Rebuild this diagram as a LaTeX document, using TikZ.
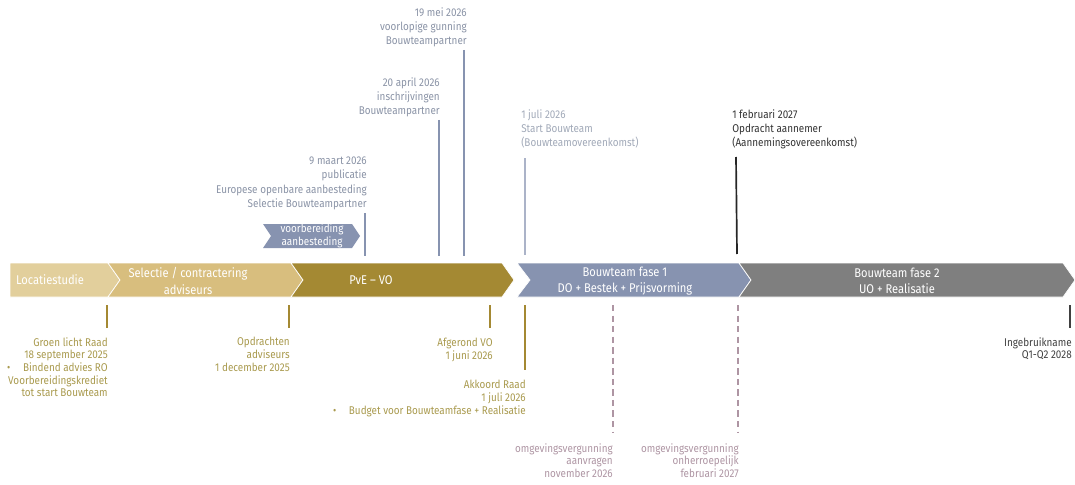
\documentclass[tikz,border=0pt]{standalone}
\usepackage{fontspec}
\setmainfont{Fira Sans}[FakeStretch=0.88]
\definecolor{locfill}{HTML}{E2CF9C}
\definecolor{selfill}{HTML}{D8BE7E}
\definecolor{pvefill}{HTML}{A48933}
\definecolor{btfill}{HTML}{8793B0}
\definecolor{grfill}{HTML}{7F7F7F}
\definecolor{goldtxt}{HTML}{A99A4E}
\definecolor{bluetxt}{HTML}{8A93A6}
\definecolor{mauve}{HTML}{AE95A3}
\begin{document}
\begin{tikzpicture}[
      x=0.025cm, y=-0.025cm,
      every node/.style={inner sep=0pt},
      band/.style={draw=white, line width=0.5pt},
      bandtxt/.style={text=white, align=center, font=\fontsize{9}{11.5}\selectfont},
      toplbl/.style={text=bluetxt, font=\fontsize{8}{10}\selectfont},
      botlbl/.style={text=goldtxt, align=right, anchor=north east,
                     font=\fontsize{8}{9}\selectfont},
      bline/.style={draw=btfill, line width=1pt},
      gline/.style={draw=pvefill, line width=1.4pt},
      vline/.style={draw=mauve, line width=1.1pt, dash pattern=on 4.5pt off 3pt},
    ]
    \useasboundingbox (0,0) rectangle (1075,485);

    % --- phase band ---
    \fill[locfill, band] (10,263) -- (108,263) -- (120,280) -- (108,297) -- (10,297) -- cycle;
    \fill[selfill, band] (108,263) -- (291,263) -- (303,280) -- (291,297) -- (108,297) -- (120,280) -- cycle;
    \fill[pvefill, band] (291,263) -- (502,263) -- (514,280) -- (502,297) -- (291,297) -- (303,280) -- cycle;
    \fill[btfill, band] (517,263) -- (739,263) -- (751,280) -- (739,297) -- (517,297) -- (530,280) -- cycle;
    \fill[grfill, band] (739,263) -- (1063,263) -- (1075,280) -- (1063,297) -- (739,297) -- (751,280) -- cycle;

    \node[bandtxt] (loc) at (50,280) {Locatiestudie};
    \node[bandtxt] (sel) at (188,281) {Selectie / contractering\\adviseurs};
    \node[bandtxt] (pve) at (371,280) {PvE -- VO};
    \node[bandtxt] (bt1) at (625,281) {Bouwteam fase 1\\DO + Bestek + Prijsvorming};
    \node[bandtxt] (bt2) at (897,281) {Bouwteam fase 2\\UO + Realisatie};

    % small arrow above the band
    \fill[btfill] (263,224) -- (352,224) -- (360,236) -- (352,248) -- (263,248) -- (271,236) -- cycle;
    \node[bandtxt, font=\fontsize{8}{9.5}\selectfont] (vba) at (312,236) {voorbereiding\\aanbesteding};

    % --- TOP: milestones ---
    \foreach \x/\ytop in {365/213, 439/120, 464/50} {
      \draw[bline] (\x,\ytop) -- (\x,256);
    }
    \node[toplbl, align=right, anchor=north east] (pub) at (367,157)
      {9 maart 2026\\publicatie\\Europese openbare aanbesteding\\Selectie Bouwteampartner};
    \node[toplbl, align=right, anchor=north east] (inschr) at (440,77)
      {20 april 2026\\inschrijvingen\\Bouwteampartner};
    \node[toplbl, align=right, anchor=north east] (gunning) at (467,7)
      {19 mei 2026\\voorlopige gunning\\Bouwteampartner};

    \draw[draw=btfill!70, line width=1.4pt] (525,158) -- (525,255);
    \node[toplbl, text=bluetxt!80, align=left, anchor=north west] (start) at (521,109)
      {1 juli 2026\\Start Bouwteam\\(Bouwteamovereenkomst)};
    \draw[draw=black!85, line width=1.2pt] (736,157) -- (737,254);
    \node[toplbl, text=black!80, align=left, anchor=north west] (aannemer) at (732,109)
      {1 februari 2027\\Opdracht aannemer\\(Aannemingsovereenkomst)};

    % --- BOTTOM: decisions ---
    \foreach \x in {107, 289, 490} {
      \draw[gline] (\x,305) -- (\x,328);
    }
    \draw[gline] (525,305) -- (525,370);
    \node[botlbl] (groen) at (108,337)
      {Groen licht Raad\\18 september 2025\\\textbullet\hspace{9pt}Bindend advies RO\\Voorbereidingskrediet\\tot start Bouwteam};
    \node[botlbl] (opdr) at (290,337) {Opdrachten\\adviseurs\\1 december 2025};
    \node[botlbl] (vo) at (493,338) {Afgerond VO\\1 juni 2026};
    \node[botlbl] (akkoord) at (526,380)
      {Akkoord Raad\\1 juli 2026\\\textbullet\hspace{9pt}Budget voor Bouwteamfase + Realisatie};

    % permits
    \draw[vline] (613,305) -- (613,432);
    \draw[vline] (738,305) -- (738,432);
    \node[botlbl, text=mauve] (aanvr) at (613,443) {omgevingsvergunning\\aanvragen\\november 2026};
    \node[botlbl, text=mauve] (onherr) at (739,443) {omgevingsvergunning\\onherroepelijk\\februari 2027};

    \draw[draw=black!75, line width=1.2pt] (1070,305) -- (1070,328);
    \node[botlbl, text=black!75] (ingebr) at (1072,337) {Ingebruikname\\Q1-Q2 2028};
  \end{tikzpicture}
\end{document}
